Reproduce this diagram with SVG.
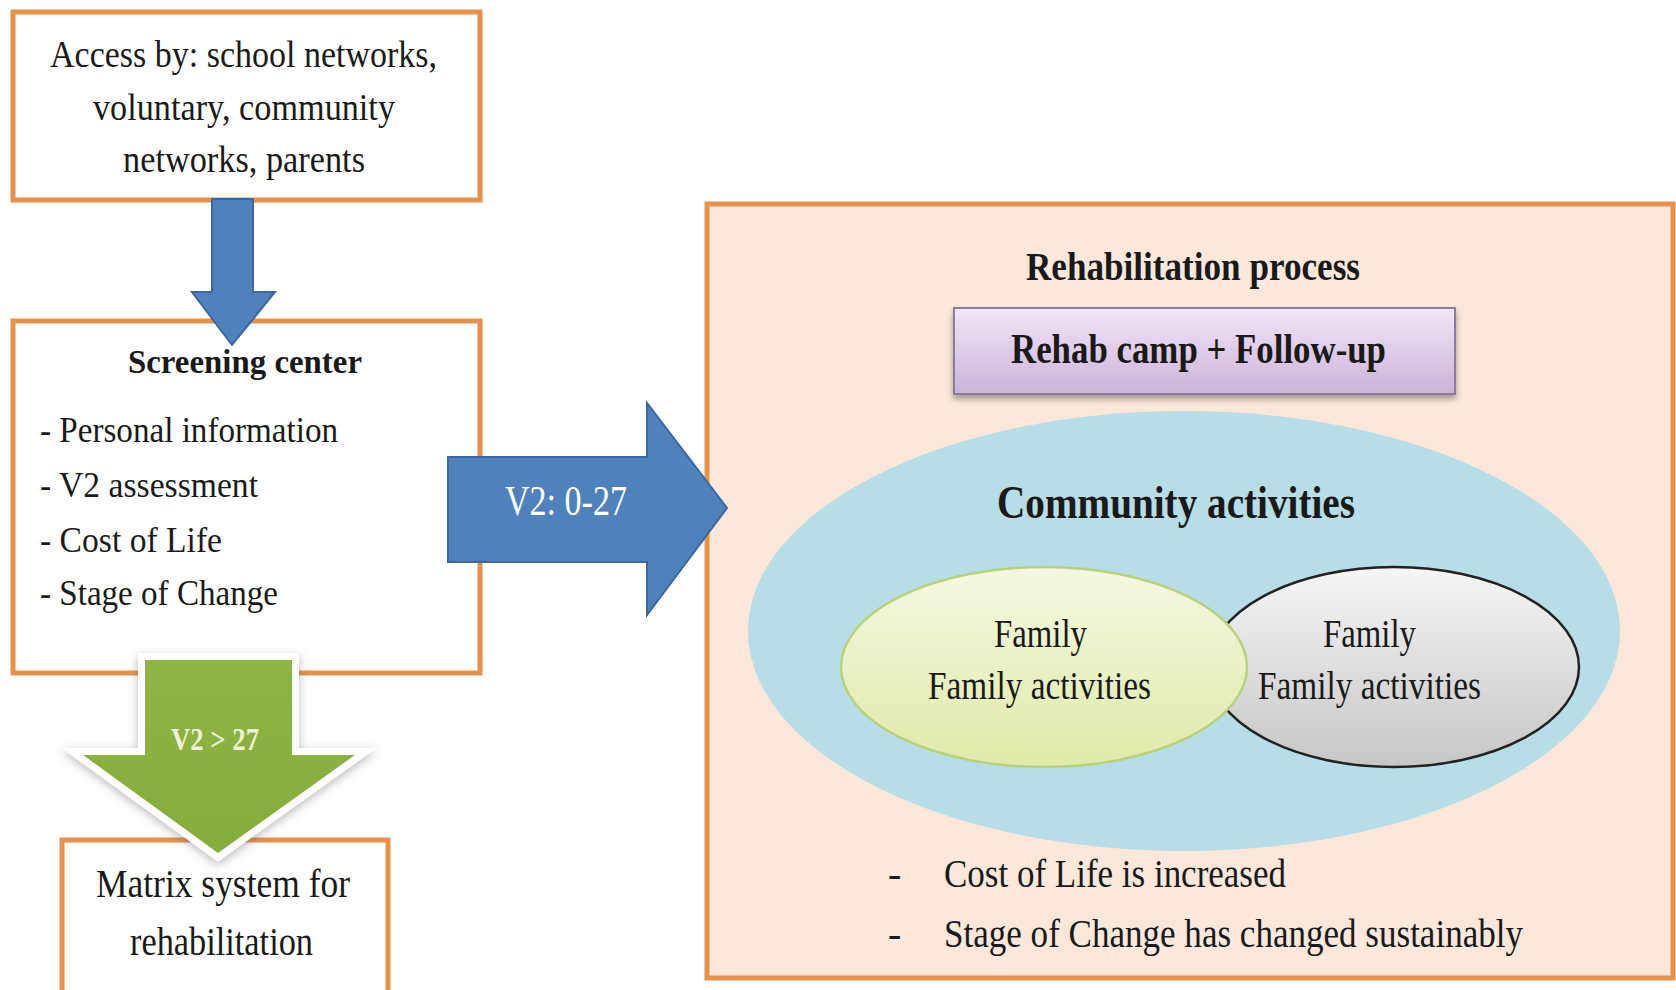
<svg xmlns="http://www.w3.org/2000/svg" width="1676" height="990" viewBox="0 0 1676 990">
  <defs>
    <style>
      .box { fill: #ffffff; stroke: #e8914a; stroke-width: 5; }
      .t { font-family: "Liberation Serif", "Times New Roman", serif; fill: #1a1a1a; }
      .b { font-weight: bold; }
      .blue { fill: #4f81bd; stroke: #3b679e; stroke-width: 2; }
    </style>
    <linearGradient id="purple" x1="0" y1="0" x2="0" y2="1">
      <stop offset="0" stop-color="#f3e6f7"/>
      <stop offset="1" stop-color="#cbb3d9"/>
    </linearGradient>
    <linearGradient id="lime" x1="0" y1="0" x2="0" y2="1">
      <stop offset="0" stop-color="#f5f8e2"/>
      <stop offset="1" stop-color="#dfeaa8"/>
    </linearGradient>
    <linearGradient id="grey" x1="0" y1="0" x2="0" y2="1">
      <stop offset="0" stop-color="#f6f6f6"/>
      <stop offset="1" stop-color="#c6c6c6"/>
    </linearGradient>
    <linearGradient id="greenArrow" x1="0" y1="0" x2="0" y2="1">
      <stop offset="0" stop-color="#8fb545"/>
      <stop offset="1" stop-color="#86ad3a"/>
    </linearGradient>
    <filter id="shadow" x="-20%" y="-20%" width="140%" height="160%">
      <feDropShadow dx="0" dy="4" stdDeviation="3" flood-color="#000" flood-opacity="0.35"/>
    </filter>
    <filter id="glow" x="-30%" y="-30%" width="160%" height="160%">
      <feDropShadow dx="0" dy="3" stdDeviation="5" flood-color="#555" flood-opacity="0.4"/>
    </filter>
  </defs>

  <rect width="1676" height="990" fill="#ffffff"/>

  <g id="access">
    <rect class="box" x="13" y="12" width="467" height="188"/>
    <text class="t" font-size="38" x="50" y="67" textLength="387" lengthAdjust="spacingAndGlyphs">Access by: school networks,</text>
    <text class="t" font-size="38" x="93" y="120" textLength="302" lengthAdjust="spacingAndGlyphs">voluntary, community</text>
    <text class="t" font-size="38" x="123" y="172" textLength="242" lengthAdjust="spacingAndGlyphs">networks, parents</text>
  </g>

  <g id="screening">
    <rect class="box" x="13" y="321" width="467" height="352"/>
    <text class="t b" font-size="34" x="128" y="373" textLength="234" lengthAdjust="spacingAndGlyphs">Screening center</text>
    <text class="t" font-size="36" x="40" y="442" textLength="298" lengthAdjust="spacingAndGlyphs">- Personal information</text>
    <text class="t" font-size="36" x="40" y="497" textLength="218" lengthAdjust="spacingAndGlyphs">- V2 assessment</text>
    <text class="t" font-size="36" x="40" y="552" textLength="182" lengthAdjust="spacingAndGlyphs">- Cost of Life</text>
    <text class="t" font-size="36" x="40" y="605" textLength="238" lengthAdjust="spacingAndGlyphs">- Stage of Change</text>
  </g>

  <g id="matrix">
    <rect class="box" x="62" y="840" width="326" height="200"/>
    <text class="t" font-size="40" x="96" y="897" textLength="254" lengthAdjust="spacingAndGlyphs">Matrix system for</text>
    <text class="t" font-size="40" x="130" y="955" textLength="183" lengthAdjust="spacingAndGlyphs">rehabilitation</text>
  </g>

  <g id="rehab-process">
    <rect x="707" y="204" width="966" height="774" fill="#fbe8da" stroke="#e8914a" stroke-width="5"/>
    <text class="t b" font-size="40" x="1026" y="280" textLength="334" lengthAdjust="spacingAndGlyphs">Rehabilitation process</text>
  </g>

  <g id="rehab-camp">
    <rect x="954" y="308" width="501" height="86" fill="url(#purple)" stroke="#8c7b9c" stroke-width="2" filter="url(#shadow)"/>
    <text class="t b" font-size="42" x="1011" y="363" textLength="375" lengthAdjust="spacingAndGlyphs">Rehab camp + Follow-up</text>
  </g>

  <g id="community">
    <ellipse cx="1184" cy="631" rx="436" ry="220" fill="#b7dde7"/>
    <text class="t b" font-size="46" x="997" y="518" textLength="358" lengthAdjust="spacingAndGlyphs">Community activities</text>
  </g>

  <g id="family-right">
    <ellipse cx="1394" cy="667" rx="185" ry="100" fill="url(#grey)" stroke="#222222" stroke-width="2.5"/>
    <text class="t" font-size="40" x="1323" y="647" textLength="93" lengthAdjust="spacingAndGlyphs">Family</text>
    <text class="t" font-size="40" x="1258" y="699" textLength="223" lengthAdjust="spacingAndGlyphs">Family activities</text>
  </g>

  <g id="family-left">
    <ellipse cx="1044" cy="667" rx="203" ry="100" fill="url(#lime)" stroke="#b8d27c" stroke-width="2.5"/>
    <text class="t" font-size="40" x="994" y="647" textLength="93" lengthAdjust="spacingAndGlyphs">Family</text>
    <text class="t" font-size="40" x="928" y="699" textLength="223" lengthAdjust="spacingAndGlyphs">Family activities</text>
  </g>

  <g id="outcomes">
    <text class="t" font-size="40" x="888" y="887">-</text>
    <text class="t" font-size="40" x="944" y="887" textLength="342" lengthAdjust="spacingAndGlyphs">Cost of Life is increased</text>
    <text class="t" font-size="40" x="888" y="947">-</text>
    <text class="t" font-size="40" x="944" y="947" textLength="579" lengthAdjust="spacingAndGlyphs">Stage of Change has changed sustainably</text>
  </g>

  <g id="connectors">
    <path class="blue" d="M212,199 L253,199 L253,292 L275,292 L232,345 L192,292 L212,292 Z"/>
    <g id="arrow-v2-0-27">
      <path class="blue" d="M448,457 L647,457 L647,403 L727,508 L647,615 L647,562 L448,562 Z"/>
      <text class="t" font-size="42" fill="#ffffff" style="fill:#ffffff" x="505" y="515" textLength="122" lengthAdjust="spacingAndGlyphs">V2: 0-27</text>
    </g>
    <g id="arrow-v2-gt-27">
      <path d="M145,660 L292,660 L292,755 L355,755 L218,853 L83,755 L145,755 Z" fill="#ffffff" stroke="#ffffff" stroke-width="14" stroke-linejoin="miter" filter="url(#glow)"/>
      <path d="M145,660 L292,660 L292,755 L355,755 L218,853 L83,755 L145,755 Z" fill="url(#greenArrow)"/>
      <text class="t b" font-size="32" style="fill:#eef3d6" x="171" y="750" textLength="88" lengthAdjust="spacingAndGlyphs">V2 &gt; 27</text>
    </g>
  </g>
</svg>
